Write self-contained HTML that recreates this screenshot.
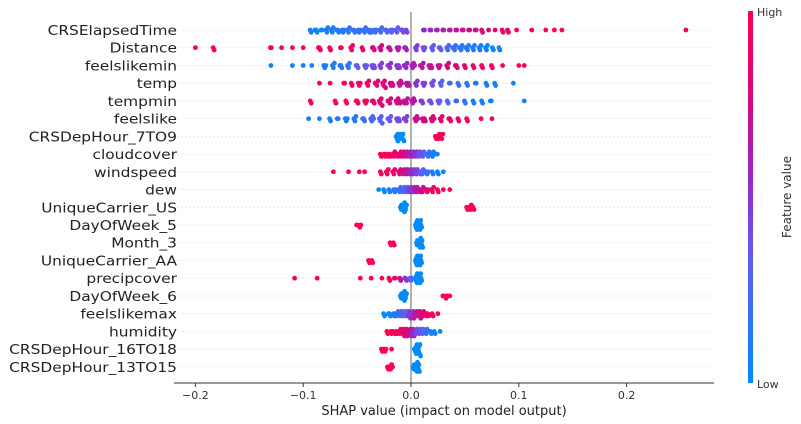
<!DOCTYPE html>
<html><head><meta charset="utf-8"><style>
html,body{margin:0;padding:0;background:#fff;}
svg{display:block;font-family:"DejaVu Sans","Liberation Sans",sans-serif;}
</style></head><body>
<svg id="chart" width="801" height="424" viewBox="0 0 801 424">
<defs>
<linearGradient id="cbar" x1="0" y1="1" x2="0" y2="0">
<stop offset="0" stop-color="rgb(0,139,251)"/>
<stop offset="0.35" stop-color="rgb(100,90,240)"/>
<stop offset="0.55" stop-color="rgb(150,40,200)"/>
<stop offset="0.75" stop-color="rgb(210,10,130)"/>
<stop offset="1" stop-color="rgb(255,0,82)"/>
</linearGradient>
</defs>
<g id="grid"></g>
<line x1="411" y1="12" x2="411" y2="383" stroke="#999" stroke-width="1.5"/>
<g id="dots"></g>
<g id="labels"></g>
<line x1="174" y1="383" x2="714" y2="383" stroke="#333" stroke-width="1"/>
<g id="xticks"></g>
<text x="444" y="415" font-size="13" text-anchor="middle" fill="#222">SHAP value (impact on model output)</text>
<rect x="748" y="11" width="5" height="372" fill="url(#cbar)"/>
<text x="757" y="16" font-size="11" fill="#333">High</text>
<text x="757" y="388" font-size="11" fill="#333">Low</text>
<text x="791" y="197" font-size="12" fill="#333" text-anchor="middle" transform="rotate(-90 791 197)">Feature value</text>
</svg>
<script>
const features = ["CRSElapsedTime","Distance","feelslikemin","temp","tempmin","feelslike","CRSDepHour_7TO9","cloudcover","windspeed","dew","UniqueCarrier_US","DayOfWeek_5","Month_3","UniqueCarrier_AA","precipcover","DayOfWeek_6","feelslikemax","humidity","CRSDepHour_16TO18","CRSDepHour_13TO15"];
const xTicks = [-0.2,-0.1,0.0,0.1,0.2];
const xTickLabels = ["\u22120.2","\u22120.1","0.0","0.1","0.2"];
const shapVals = [
[-0.093,-0.088,-0.083,-0.078,-0.073,-0.068,-0.063,-0.058,-0.053,-0.048,-0.043,-0.038,-0.033,-0.028,-0.023,-0.018,-0.013,-0.008,-0.004,0.012,0.018,0.024,0.03,0.036,0.042,0.048,0.054,0.06,0.066,0.072,0.078,0.085,0.09,0.098,0.112,0.125,0.133,0.14,0.255],
[-0.2,-0.183,-0.13,-0.12,-0.11,-0.1,-0.085,-0.075,-0.065,-0.055,-0.045,-0.035,-0.028,-0.02,-0.012,-0.005,0.005,0.012,0.02,0.027,0.034,0.04,0.046,0.052,0.058,0.064,0.07,0.076,0.082],
[-0.13,-0.11,-0.1,-0.092,-0.08,-0.072,-0.065,-0.058,-0.05,-0.042,-0.035,-0.028,-0.02,-0.012,-0.005,0.002,0.01,0.018,0.026,0.034,0.042,0.05,0.058,0.066,0.075,0.085,0.1,0.105],
[-0.085,-0.075,-0.062,-0.055,-0.048,-0.04,-0.032,-0.025,-0.018,-0.01,-0.003,0.005,0.012,0.02,0.028,0.036,0.044,0.052,0.06,0.07,0.078,0.095],
[-0.093,-0.07,-0.06,-0.05,-0.042,-0.035,-0.028,-0.02,-0.012,-0.005,0.002,0.01,0.018,0.026,0.034,0.042,0.05,0.058,0.066,0.074,0.105],
[-0.095,-0.085,-0.075,-0.068,-0.06,-0.052,-0.044,-0.036,-0.028,-0.02,-0.012,-0.005,0.005,0.012,0.02,0.028,0.036,0.044,0.052,0.065,0.075],
[-0.013,-0.01,-0.007,0.023,0.026,0.029],
[-0.028,-0.024,-0.02,-0.016,-0.012,-0.008,-0.004,0,0.004,0.008,0.012,0.016,0.02,0.024],
[-0.072,-0.058,-0.048,-0.043,-0.028,-0.022,-0.016,-0.01,-0.005,0,0.005,0.01,0.015,0.02,0.025,0.03],
[-0.03,-0.025,-0.02,-0.015,-0.01,-0.005,0,0.005,0.01,0.015,0.02,0.025,0.03,0.036],
[-0.009,-0.007,-0.005,0.052,0.055,0.058],
[-0.05,-0.047,0.005,0.007,0.009],
[-0.019,-0.016,0.006,0.008,0.01],
[-0.039,-0.036,0.005,0.007,0.009],
[-0.108,-0.087,-0.047,-0.037,-0.027,-0.02,-0.015,-0.01,-0.005,0,0.005,0.007,0.009],
[-0.009,-0.007,-0.005,0.03,0.033,0.036],
[-0.025,-0.02,-0.015,-0.01,-0.005,0,0.005,0.01,0.015,0.02,0.025],
[-0.022,-0.018,-0.014,-0.01,-0.006,-0.002,0.002,0.006,0.01,0.014,0.018,0.022,0.027],
[-0.027,-0.024,-0.018,0.004,0.006,0.008],
[-0.021,-0.018,0.003,0.005,0.007]
];
const featVals = [
[0.05,0.05,0.08,0.1,0.1,0.12,0.12,0.15,0.15,0.18,0.18,0.2,0.22,0.25,0.28,0.3,0.35,0.4,0.45,0.55,0.55,0.6,0.62,0.65,0.7,0.7,0.75,0.72,0.8,0.85,0.85,0.9,0.9,0.95,1,1,1,1,1],
[1,1,1,1,0.95,1,0.95,0.92,0.9,0.88,0.85,0.8,0.75,0.7,0.65,0.6,0.45,0.4,0.35,0.3,0.25,0.2,0.15,0.12,0.1,0.08,0.05,0.05,0.05],
[0.05,0.05,0.08,0.08,0.1,0.1,0.12,0.15,0.3,0.35,0.4,0.45,0.5,0.5,0.55,0.6,0.65,0.7,0.7,0.75,0.8,0.85,0.85,0.9,0.95,0.95,1,1],
[1,1,1,0.95,0.95,0.9,0.85,0.8,0.75,0.7,0.65,0.5,0.45,0.4,0.3,0.25,0.2,0.15,0.1,0.08,0.05,0.05],
[1,1,1,0.95,0.95,0.9,0.85,0.8,0.75,0.7,0.65,0.45,0.4,0.35,0.3,0.2,0.15,0.1,0.08,0.05,0.05],
[0.05,0.05,0.08,0.1,0.12,0.15,0.2,0.25,0.3,0.35,0.4,0.45,0.7,0.75,0.8,0.85,0.88,0.9,0.95,1,1],
[0,0,0,1,1,1],
[1,1,0.95,0.9,0.85,0.8,0.7,0.6,0.5,0.4,0.3,0.2,0.1,0.05],
[1,1,1,1,1,0.95,0.9,0.8,0.7,0.55,0.45,0.3,0.2,0.1,0.05,0.05],
[0,0.05,0.1,0.15,0.2,0.3,0.5,0.65,0.75,0.85,0.9,0.95,1,1],
[0,0,0,1,1,1],
[1,1,0,0,0],
[1,1,0,0,0],
[1,1,0,0,0],
[1,1,1,1,1,1,0.95,0.7,0.5,0.3,0,0,0],
[0,0,0,1,1,1],
[0,0.05,0.1,0.2,0.35,0.5,0.7,0.8,0.9,0.95,1],
[1,1,0.95,0.9,0.85,0.75,0.55,0.4,0.3,0.2,0.1,0.05,0],
[1,1,1,0,0,0],
[1,1,0,0,0]
];
const pointCounts = [
[2,3,2,3,3,3,3,3,3,3,3,4,3,3,3,3,3,3,2,2,2,2,2,2,2,2,2,2,2,1,1,2,2,1,1,1,1,1,1],
[1,2,2,1,1,1,3,2,2,3,2,3,3,3,3,3,3,3,3,3,3,4,4,4,3,3,3,2,2],
[1,1,1,1,3,3,3,3,3,3,4,3,4,4,4,4,4,4,3,3,3,2,2,2,2,1,1,1],
[1,1,2,2,3,3,4,4,4,4,4,3,3,3,3,2,2,2,2,2,2,1],
[2,2,2,3,3,3,4,4,5,5,4,3,3,3,2,2,2,2,2,2,1],
[1,1,2,2,3,3,3,4,4,4,4,4,4,4,4,3,3,2,2,1,1],
[3,6,2,2,4,2],
[2,3,3,3,4,4,4,4,4,4,3,3,3,2],
[1,1,1,1,2,3,3,4,5,5,5,4,3,2,2,1],
[1,2,2,3,4,5,5,5,4,3,3,2,1,1],
[3,5,3,2,3,2],
[2,2,3,6,3],
[2,2,3,6,3],
[2,2,3,6,3],
[1,1,1,1,1,2,2,2,3,3,3,6,3],
[3,5,3,2,2,1],
[2,3,4,5,6,6,6,5,4,2,1],
[2,3,3,4,5,6,5,4,4,3,3,2,1],
[2,3,1,3,6,3],
[3,3,3,6,3]
];

const NS = "http://www.w3.org/2000/svg";
const X0 = 411, XS = 1078;
function xScale(v){ return X0 + v*XS; }
const Y0 = 30, YS = 17.73;
function yScale(i){ return Y0 + i*YS; }
const stops = [[0,[0,139,251]],[0.35,[100,90,240]],[0.55,[150,40,200]],[0.75,[210,10,130]],[1,[255,0,82]]];
function colorOf(t){
  for(let i=1;i<stops.length;i++){
    if(t<=stops[i][0]){
      const a=stops[i-1], b=stops[i], f=(t-a[0])/(b[0]-a[0]);
      const c=a[1].map((v,k)=>Math.round(v+(b[1][k]-v)*f));
      return "rgb("+c.join(",")+")";
    }
  }
  return "rgb(255,0,82)";
}
const grid = document.getElementById("grid");
const dotsG = document.getElementById("dots");
const labelsG = document.getElementById("labels");
const xt = document.getElementById("xticks");

features.forEach((name,i)=>{
  const y = yScale(i);
  const ln = document.createElementNS(NS,"line");
  ln.setAttribute("x1",174); ln.setAttribute("x2",714);
  ln.setAttribute("y1",y); ln.setAttribute("y2",y);
  ln.setAttribute("stroke","#ccc"); ln.setAttribute("stroke-width","0.8");
  ln.setAttribute("stroke-dasharray","1,3");
  
  
  grid.appendChild(ln);

  const t = document.createElementNS(NS,"text");
  t.setAttribute("x",177); t.setAttribute("y",y+5);
  t.setAttribute("text-anchor","end"); t.setAttribute("font-size","13");
  t.setAttribute("textLength", "0");
  t.removeAttribute("textLength");
  t.setAttribute("fill","#222");
  t.setAttribute("font-size","15.4");
  t.setAttribute("transform","translate(177 0) scale(1 0.86) translate(-177 0)");
  t.setAttribute("y",(y+5)/0.86);
  t.textContent = name;
  
  
  labelsG.appendChild(t);

  const vals = shapVals[i], fv = featVals[i], cn = pointCounts[i];
  const dots = [];
  vals.forEach((v,j)=>{
    const n = cn[j] || 1;
    for(let k=0;k<n;k++){
      dots.push({px: xScale(v) + (k-(n-1)/2)*1.0, c: colorOf(fv[j])});
    }
  });
  dots.sort((a,b)=>a.px-b.px);
  const occ = {};
  dots.forEach(d=>{
    const bin = Math.round(d.px/3.2);
    const k = occ[bin] || 0; occ[bin] = k+1;
    let off = k===0 ? 0 : (k%2 ? 1 : -1)*Math.ceil(k/2)*2.3;
    if(Math.abs(off)>8.5) off = ((k*37)%17) - 8;
    const c = document.createElementNS(NS,"circle");
    c.setAttribute("cx",d.px.toFixed(1)); c.setAttribute("cy",(y+off).toFixed(1));
    c.setAttribute("r","2.4"); c.setAttribute("fill",d.c);
    
    
    dotsG.appendChild(c);
  });
});

xTicks.forEach((v,i)=>{
  const x = xScale(v);
  const tk = document.createElementNS(NS,"line");
  tk.setAttribute("x1",x); tk.setAttribute("x2",x);
  tk.setAttribute("y1",383); tk.setAttribute("y2",387);
  tk.setAttribute("stroke","#333");
  
  
  xt.appendChild(tk);
  const t = document.createElementNS(NS,"text");
  t.setAttribute("x",x); t.setAttribute("y",399);
  t.setAttribute("text-anchor","middle"); t.setAttribute("font-size","11");
  t.setAttribute("fill","#333");
  t.textContent = xTickLabels[i];
  
  
  xt.appendChild(t);
});
</script>
</body></html>
